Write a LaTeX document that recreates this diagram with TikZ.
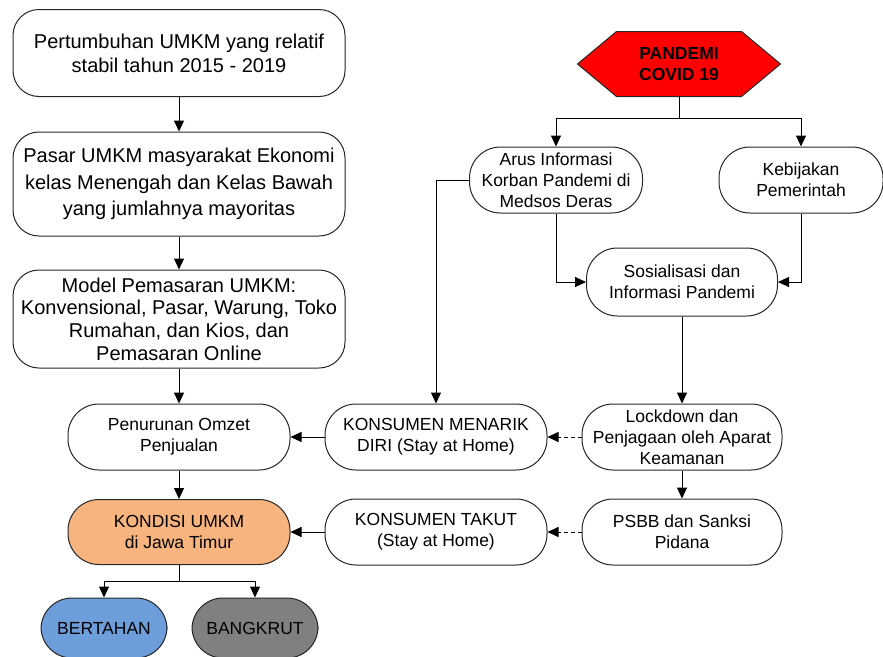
\documentclass[tikz,border=0pt]{standalone}
\usepackage{fontspec}
\setmainfont{Liberation Sans}
\usepackage{tikz}
\usetikzlibrary{arrows.meta}

\definecolor{kondisiorange}{HTML}{F8B47E}
\definecolor{bertahanblue}{HTML}{6D9EDB}
\definecolor{bangkrutgray}{HTML}{808080}

\tikzset{
    >={Triangle[length=11pt,width=10pt]},
    every path/.style={line width=1pt},
    bigbox/.style={draw=black!85, rounded corners=26pt, minimum width=332pt, align=center,
        inner sep=0pt},
    pill/.style={draw=black!85, rounded corners=31pt, minimum height=66pt, align=center,
        inner sep=0pt, font=\fontsize{17.5}{21}\selectfont},
    hexa/.style={minimum width=202pt, minimum height=64pt,
        inner sep=0pt, align=center, font=\fontsize{17.5}{21}\selectfont\bfseries},
    dashline/.style={->, dash pattern=on 4pt off 3pt}
}

\begin{document}
\begin{tikzpicture}[x=1pt, y=-1pt]
    \useasboundingbox (0,0) rectangle (883,656);

    % left column
    \node[bigbox, minimum height=87pt, font=\fontsize{20}{24}\selectfont] (tumbuh) at (179,53)
        {Pertumbuhan UMKM yang relatif\\stabil tahun 2015 - 2019};
    \node[bigbox, minimum height=104pt, font=\fontsize{20}{26.5}\selectfont] (pasar) at (179,184)
        {Pasar UMKM masyarakat Ekonomi\\kelas Menengah dan Kelas Bawah\\yang jumlahnya mayoritas};
    \node[bigbox, minimum height=98pt, font=\fontsize{20}{22.7}\selectfont] (model) at (179,319)
        {Model Pemasaran UMKM:\\Konvensional, Pasar, Warung, Toko\\Rumahan, dan Kios, dan\\Pemasaran Online};
    \node[pill, minimum width=222pt] (penurunan) at (179,437)
        {Penurunan Omzet\\Penjualan};
    \node[pill, minimum width=222pt, minimum height=65pt, fill=kondisiorange] (kondisi) at (179,532)
        {KONDISI UMKM\\di Jawa Timur};
    \node[pill, minimum width=126pt, minimum height=60pt, fill=bertahanblue] (bertahan) at (104,628)
        {BERTAHAN};
    \node[pill, minimum width=126pt, minimum height=60pt, fill=bangkrutgray] (bangkrut) at (255,628)
        {BANGKRUT};

    % right side
    \node[hexa] (pandemi) at (679,64) {};
    \filldraw[fill=red, draw=black!85] (pandemi.west) -- ([xshift=39pt]pandemi.north west)
        -- ([xshift=-39pt]pandemi.north east) -- (pandemi.east)
        -- ([xshift=-39pt]pandemi.south east) -- ([xshift=39pt]pandemi.south west) -- cycle;
    \node[hexa] at (pandemi) {PANDEMI\\COVID 19};
    \node[pill, minimum width=173pt] (arus) at (556,180)
        {Arus Informasi\\Korban Pandemi di\\Medsos Deras};
    \node[pill, minimum width=164pt] (kebijakan) at (801,180)
        {Kebijakan\\Pemerintah};
    \node[pill, minimum width=191pt, minimum height=68pt] (sosial) at (682,282)
        {Sosialisasi dan\\Informasi Pandemi};
    \node[pill, minimum width=200pt] (lockdown) at (682,437)
        {Lockdown dan\\Penjagaan oleh Aparat\\Keamanan};
    \node[pill, minimum width=200pt] (psbb) at (682,532)
        {PSBB dan Sanksi\\Pidana};
    \node[pill, minimum width=222pt] (menarik) at (436,437)
        {KONSUMEN MENARIK\\DIRI (Stay at Home)};
    \node[pill, minimum width=222pt] (takut) at (436,532)
        {KONSUMEN TAKUT\\(Stay at Home)};

    % connectors
    \draw[->] (tumbuh) -- (pasar);
    \draw[->] (pasar) -- (model);
    \draw[->] (model) -- (penurunan);
    \draw[->] (penurunan) -- (kondisi);
    \draw (kondisi.south) -- ++(0,16) coordinate (split);
    \draw[->] (split) -| (bertahan.north);
    \draw[->] (split) -| (bangkrut.north);

    \draw (pandemi.south) -- ++(0,22) coordinate (fork);
    \draw[->] (fork) -| (arus.north);
    \draw[->] (fork) -| (kebijakan.north);
    \draw[->] (arus.south) |- (sosial.west);
    \draw[->] (kebijakan.south) |- (sosial.east);
    \draw[->] (arus.west) -| (menarik.north);
    \draw[->] (sosial) -- (lockdown);
    \draw[->] (lockdown) -- (psbb);

    \draw[dashline] (lockdown) -- (menarik);
    \draw[dashline] (psbb) -- (takut);
    \draw[->] (menarik) -- (penurunan);
    \draw[->] (takut) -- (kondisi);
\end{tikzpicture}
\end{document}
